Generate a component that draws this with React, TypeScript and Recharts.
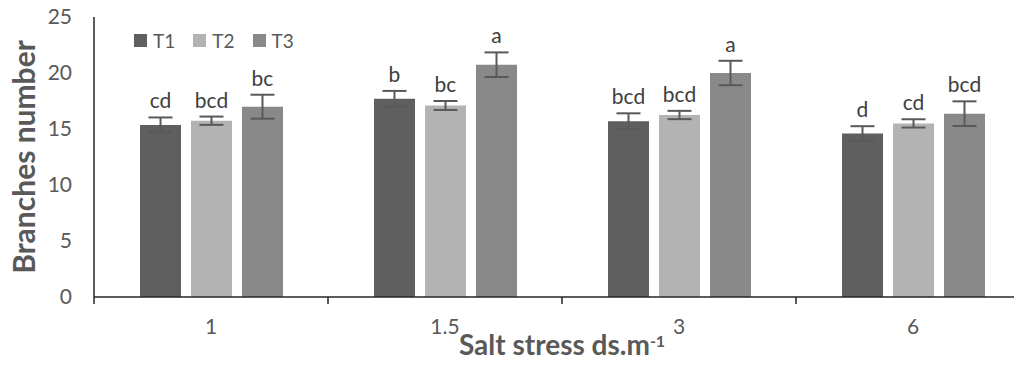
import { Bar, BarChart, ErrorBar, LabelList, Legend, XAxis, YAxis, Label } from "recharts";

const categories = ["1", "1.5", "3", "6"];
const t1 = [15.36, 17.7, 15.7, 14.6];
const t1Err = [0.67, 0.7, 0.7, 0.65];
const t2 = [15.74, 17.1, 16.25, 15.5];
const t2Err = [0.37, 0.4, 0.37, 0.37];
const t3 = [16.99, 20.74, 20.0, 16.37];
const t3Err = [1.07, 1.1, 1.09, 1.1];
const sig1 = ["cd", "b", "bcd", "d"];
const sig2 = ["bcd", "bc", "bcd", "cd"];
const sig3 = ["bc", "a", "a", "bcd"];
const yTicks = [0, 5, 10, 15, 20, 25];

const data = categories.map((c, i) => ({
  cat: c,
  t1: t1[i],
  t1Err: t1Err[i],
  t1Sig: sig1[i],
  t2: t2[i],
  t2Err: t2Err[i],
  t2Sig: sig2[i],
  t3: t3[i],
  t3Err: t3Err[i],
  t3Sig: sig3[i],
}));

const TEXT = "#595959";
const AXIS = "#262626";

const series = [
  { key: "t1", name: "T1", color: "#5f5f5f", vals: t1, errs: t1Err },
  { key: "t2", name: "T2", color: "#b3b3b3", vals: t2, errs: t2Err },
  { key: "t3", name: "T3", color: "#898989", vals: t3, errs: t3Err },
];

function sigLabel(vals: number[], errs: number[]) {
  return (props: any) => {
    const { x, y, width, height, value, index } = props;
    const errPx = (errs[index] / vals[index]) * height;
    return (
      <text
        x={x + width / 2}
        y={y - errPx - 9}
        textAnchor="middle"
        fontSize={21}
        fill="#404040"
      >
        {value}
      </text>
    );
  };
}

// category label plus the tick marks at the category edges
function CatTick(props: any) {
  const { x, y, payload, index, width, visibleTicksCount } = props;
  const band = width / visibleTicksCount;
  return (
    <g>
      <line x1={x - band / 2} x2={x - band / 2} y1={y} y2={y + 7} stroke={AXIS} strokeWidth={1.5} />
      {index === visibleTicksCount - 1 && (
        <line x1={x + band / 2} x2={x + band / 2} y1={y} y2={y + 7} stroke={AXIS} strokeWidth={1.5} />
      )}
      <text x={x} y={y + 22} dy="0.71em" textAnchor="middle" fontSize={21} fill={TEXT}>
        {payload.value}
      </text>
    </g>
  );
}

function LegendBox(props: any) {
  const { payload } = props;
  return (
    <div style={{ display: "flex", alignItems: "center" }}>
      {payload.map((p: any) => (
        <div
          key={p.value}
          style={{ display: "flex", alignItems: "center", marginRight: 18 }}
        >
          <span
            style={{
              width: 13,
              height: 13,
              background: p.color,
              display: "inline-block",
              marginRight: 6,
            }}
          />
          <span style={{ fontSize: 19, color: TEXT }}>{p.value}</span>
        </div>
      ))}
    </div>
  );
}

export default function App() {
  return (
    <div
      style={{
        margin: -8,
        width: 1022,
        height: 380,
        overflow: "hidden",
        fontFamily: "Lato, 'Open Sans', sans-serif",
        background: "#fff",
      }}
    >
      <BarChart
        width={1040}
        height={380}
        data={data}
        margin={{ top: 17, right: 10, left: 0, bottom: 0 }}
        barSize={41}
        barGap={10}
      >
        <XAxis
          dataKey="cat"
          height={83}
          axisLine={{ stroke: AXIS, strokeWidth: 1.5 }}
          tickLine={false}
          tickSize={0}
          tickMargin={0}
          tick={<CatTick />}
        >
          <Label
            content={(p: any) => {
              const vb = p.viewBox;
              return (
                <text
                  x={vb.x + vb.width / 2}
                  y={vb.y + 58}
                  textAnchor="middle"
                  fontSize={28}
                  fontWeight="bold"
                  fill={TEXT}
                >
                  Salt stress ds.m<tspan dy={-8} fontSize={16}>-1</tspan>
                </text>
              );
            }}
          />
        </XAxis>
        <YAxis
          width={94}
          domain={[0, 25]}
          ticks={yTicks}
          tickSize={0}
          tickMargin={22}
          tickLine={false}
          axisLine={{ stroke: AXIS, strokeWidth: 1.5 }}
          tick={{ fill: TEXT, fontSize: 21 }}
        >
          <Label
            content={(p: any) => {
              const vb = p.viewBox;
              const cy = vb.y + vb.height / 2;
              return (
                <text
                  x={23}
                  y={cy}
                  transform={`rotate(-90 23 ${cy})`}
                  textAnchor="middle"
                  dominantBaseline="central"
                  fontSize={30}
                  fontWeight="bold"
                  fill={TEXT}
                >
                  Branches number
                </text>
              );
            }}
          />
        </YAxis>
        <Legend
          layout="horizontal"
          verticalAlign="middle"
          align="center"
          wrapperStyle={{ left: 134, top: 29, width: "auto", height: "auto" }}
          content={LegendBox}
        />
        {series.map((s) => (
          <Bar
            key={s.key}
            dataKey={s.key}
            name={s.name}
            fill={s.color}
            isAnimationActive={false}
          >
            <ErrorBar
              dataKey={`${s.key}Err`}
              width={12}
              strokeWidth={2}
              stroke="#595959"
              direction="y"
            />
            <LabelList
              dataKey={`${s.key}Sig`}
              content={sigLabel(s.vals, s.errs)}
            />
          </Bar>
        ))}
      </BarChart>
    </div>
  );
}
